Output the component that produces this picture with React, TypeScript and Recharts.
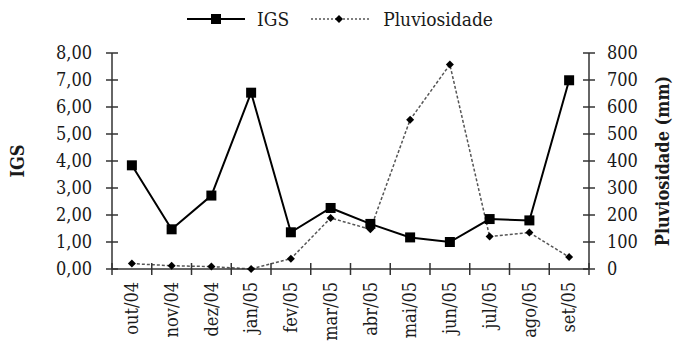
import React from 'react'
import { LineChart, Line, XAxis, YAxis, Legend } from 'recharts'

const months = ['out/04', 'nov/04', 'dez/04', 'jan/05', 'fev/05', 'mar/05', 'abr/05', 'mai/05', 'jun/05', 'jul/05', 'ago/05', 'set/05']
const igs = [3.84, 1.47, 2.72, 6.53, 1.36, 2.26, 1.67, 1.17, 1.0, 1.85, 1.8, 6.99]
const pluviosidade = [20, 12, 9, 0, 38, 189, 147, 553, 757, 120, 135, 44]
const igsTicks = [0, 1, 2, 3, 4, 5, 6, 7, 8]
const pluvTicks = [0, 100, 200, 300, 400, 500, 600, 700, 800]

const data = months.map((m, i) => ({ month: m, igs: igs[i], pluv: pluviosidade[i] }))

const FONT = '"DejaVu Serif Condensed", "DejaVu Serif", serif'
const INK = '#1a1a1a'
const AXIS = '#333'

const fmtIgs = (v: number) => v.toFixed(2).replace('.', ',')

function SquareDot(props: any) {
  const { cx, cy, index } = props
  if (cx == null || cy == null) return null
  return <rect key={`sq-${index}`} x={cx - 5} y={cy - 5} width={10} height={10} fill="#000" />
}

function DiamondDot(props: any) {
  const { cx, cy, index } = props
  if (cx == null || cy == null) return null
  return (
    <polygon
      key={`dm-${index}`}
      points={`${cx},${cy - 4} ${cx + 4},${cy} ${cx},${cy + 4} ${cx - 4},${cy}`}
      fill="#000"
    />
  )
}

// y ticks cross the axis line (both sides), like the original
function LeftTick(props: any) {
  const { x, y, payload } = props
  const ax = x + 20
  return (
    <g>
      <line x1={ax - 6} x2={ax + 6} y1={y} y2={y} stroke={AXIS} strokeWidth={1.5} />
      <text x={x} y={y} dy="0.35em" textAnchor="end" fontFamily={FONT} fontSize={18} fill={INK}>
        {fmtIgs(payload.value)}
      </text>
    </g>
  )
}

function RightTick(props: any) {
  const { x, y, payload } = props
  const ax = x - 18
  return (
    <g>
      <line x1={ax - 6} x2={ax + 6} y1={y} y2={y} stroke={AXIS} strokeWidth={1.5} />
      <text x={x} y={y} dy="0.35em" textAnchor="start" fontFamily={FONT} fontSize={18} fill={INK}>
        {payload.value}
      </text>
    </g>
  )
}

// month label + tick marks at the band edges (between months)
function MonthTick(props: any) {
  const { x, y, payload, index, visibleTicksCount } = props
  const n = visibleTicksCount || months.length
  const w = Number(props.width) || 477
  const half = w / n / 2
  const ay = y - 13
  return (
    <g>
      <line x1={x - half} x2={x - half} y1={ay - 6} y2={ay + 6} stroke={AXIS} strokeWidth={1.5} />
      {index === n - 1 && (
        <line x1={x + half} x2={x + half} y1={ay - 6} y2={ay + 6} stroke={AXIS} strokeWidth={1.5} />
      )}
      <text
        x={x}
        y={y}
        dy="0.35em"
        transform={`rotate(-90, ${x}, ${y})`}
        textAnchor="end"
        fontFamily={FONT}
        fontSize={18}
        fill={INK}
      >
        {payload.value}
      </text>
    </g>
  )
}

function LegendIcon({ kind }: { kind: string }) {
  if (kind === 'igs') {
    return (
      <svg width={58} height={20}>
        <line x1={0} x2={58} y1={10} y2={10} stroke="#000" strokeWidth={2} />
        <rect x={24} y={5} width={10} height={10} fill="#000" />
      </svg>
    )
  }
  return (
    <svg width={60} height={20}>
      <line x1={0} x2={60} y1={10} y2={10} stroke="#555" strokeWidth={1.5} strokeDasharray="2 2" />
      <polygon points="28,6 32,10 28,14 24,10" fill="#000" />
    </svg>
  )
}

function renderLegend(props: any) {
  const { payload } = props
  return (
    <div style={{ height: 49, display: 'flex', justifyContent: 'center', alignItems: 'flex-start' }}>
      {(payload || []).map((entry: any) => (
        <div
          key={entry.dataKey}
          style={{ display: 'flex', alignItems: 'center', height: 30, marginRight: entry.dataKey === 'igs' ? 22 : 0 }}
        >
          <LegendIcon kind={entry.dataKey} />
          <span style={{ fontFamily: FONT, fontSize: 19, color: INK, marginLeft: 12 }}>{entry.value}</span>
        </div>
      ))}
    </div>
  )
}

function AxisTitle({ viewBox, text, dx }: any) {
  const cx = viewBox.x + dx
  const cy = viewBox.y + viewBox.height / 2
  return (
    <text
      x={cx}
      y={cy}
      dy="0.35em"
      transform={`rotate(-90, ${cx}, ${cy})`}
      textAnchor="middle"
      fontFamily={FONT}
      fontSize={18}
      fontWeight="bold"
      fill={INK}
    >
      {text}
    </text>
  )
}

export default function App() {
  return (
    <div style={{ position: 'absolute', left: 0, top: 0, width: 680, height: 341, background: '#fff' }}>
      <LineChart width={680} height={341} data={data} margin={{ top: 4, right: 0, bottom: 0, left: 0 }}>
        <XAxis
          xAxisId="cat"
          dataKey="month"
          type="category"
          scale="band"
          height={72}
          tickLine={false}
          tickSize={0}
          tickMargin={13}
          interval={0}
          axisLine={{ stroke: AXIS, strokeWidth: 1.5 }}
          tick={<MonthTick />}
        />
        <YAxis
          yAxisId="left"
          width={112}
          domain={[0, 8]}
          ticks={igsTicks}
          interval={0}
          tickLine={false}
          tickSize={0}
          tickMargin={20}
          axisLine={{ stroke: AXIS, strokeWidth: 1.5 }}
          tick={<LeftTick />}
          label={{ content: (p: any) => <AxisTitle viewBox={p.viewBox} text="IGS" dx={18} /> }}
        />
        <YAxis
          yAxisId="right"
          orientation="right"
          width={91}
          domain={[0, 800]}
          ticks={pluvTicks}
          interval={0}
          tickLine={false}
          tickSize={0}
          tickMargin={18}
          axisLine={{ stroke: AXIS, strokeWidth: 1.5 }}
          tick={<RightTick />}
          label={{ content: (p: any) => <AxisTitle viewBox={p.viewBox} text="Pluviosidade (mm)" dx={74} /> }}
        />
        <Legend verticalAlign="top" align="center" height={49} content={renderLegend} />
        <Line
          xAxisId="cat"
          yAxisId="left"
          dataKey="igs"
          name="IGS"
          stroke="#000"
          strokeWidth={2}
          dot={SquareDot}
          activeDot={false}
          isAnimationActive={false}
        />
        <Line
          xAxisId="cat"
          yAxisId="right"
          dataKey="pluv"
          name="Pluviosidade"
          stroke="#555"
          strokeWidth={1.5}
          strokeDasharray="3 2"
          dot={DiamondDot}
          activeDot={false}
          isAnimationActive={false}
        />
      </LineChart>
    </div>
  )
}
